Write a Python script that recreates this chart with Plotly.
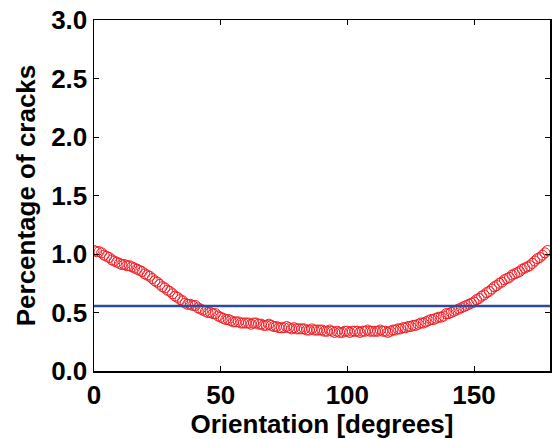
import plotly.graph_objects as go

orientation = list(range(0, 180))
percentage = [
    1.03, 1.02, 1.02, 1.01, 0.99, 0.98, 0.97, 0.95, 0.94, 0.93,
    0.92, 0.91, 0.91, 0.90, 0.90, 0.89, 0.88, 0.87, 0.86, 0.85,
    0.83, 0.82, 0.81, 0.79, 0.77, 0.76, 0.74, 0.72, 0.71, 0.69,
    0.68, 0.66, 0.64, 0.63, 0.61, 0.60, 0.58, 0.57, 0.57, 0.56,
    0.56, 0.54, 0.53, 0.52, 0.51, 0.50, 0.50, 0.49, 0.49, 0.47,
    0.46, 0.45, 0.44, 0.44, 0.43, 0.42, 0.42, 0.42, 0.41, 0.41,
    0.41, 0.41, 0.40, 0.41, 0.41, 0.40, 0.40, 0.39, 0.39, 0.40,
    0.39, 0.38, 0.38, 0.37, 0.37, 0.37, 0.38, 0.37, 0.36, 0.37,
    0.36, 0.36, 0.36, 0.36, 0.35, 0.35, 0.36, 0.35, 0.35, 0.35,
    0.35, 0.34, 0.34, 0.35, 0.34, 0.33, 0.34, 0.33, 0.33, 0.34,
    0.34, 0.33, 0.34, 0.34, 0.34, 0.33, 0.34, 0.34, 0.35, 0.34,
    0.34, 0.34, 0.34, 0.35, 0.34, 0.34, 0.33, 0.34, 0.35, 0.35,
    0.36, 0.36, 0.37, 0.37, 0.38, 0.38, 0.39, 0.39, 0.40, 0.41,
    0.41, 0.42, 0.43, 0.44, 0.44, 0.45, 0.46, 0.46, 0.47, 0.49,
    0.49, 0.50, 0.51, 0.52, 0.53, 0.54, 0.55, 0.56, 0.57, 0.58,
    0.59, 0.61, 0.62, 0.64, 0.65, 0.67, 0.68, 0.70, 0.72, 0.73,
    0.75, 0.76, 0.78, 0.79, 0.80, 0.82, 0.83, 0.84, 0.85, 0.87,
    0.88, 0.89, 0.90, 0.92, 0.94, 0.96, 0.97, 0.99, 1.01, 1.03,
]
uniform_x = [0, 180]
uniform_level = [100.0 / 180.0, 100.0 / 180.0]

x_ticks = [0, 50, 100, 150]
y_ticks = [0.0, 0.5, 1.0, 1.5, 2.0, 2.5, 3.0]

font = dict(family="Liberation Sans, Arial, sans-serif", size=26, color="black", weight="bold")

fig = go.Figure()
fig.add_trace(go.Scatter(
    x=orientation, y=percentage, mode="markers",
    marker=dict(symbol="circle-open", size=10, color="#f01c24", line=dict(width=1, color="#f01c24")),
    showlegend=False,
))
fig.add_trace(go.Scatter(
    x=uniform_x, y=uniform_level, mode="lines",
    line=dict(color="#2b4c9c", width=2.5),
    showlegend=False,
))

axis_common = dict(
    showline=True, linecolor="black", linewidth=1.5, mirror="allticks",
    ticks="inside", ticklen=5, tickwidth=1, tickcolor="black",
    showgrid=False, zeroline=False, tickfont=font, ticklabeloverflow="allow",
)
fig.update_xaxes(range=[0, 180], tickvals=x_ticks, ticktext=[str(v) for v in x_ticks],
                 title=dict(text="Orientation [degrees]", font=font, standoff=0), **axis_common)
fig.update_yaxes(range=[0, 3], tickvals=y_ticks, ticktext=[f"{v:.1f}" for v in y_ticks],
                 title=dict(text="Percentage of cracks", font=font, standoff=8), **axis_common)

fig.update_layout(
    width=553, height=439,
    margin=dict(l=94, r=1, t=20, b=68),
    paper_bgcolor="white", plot_bgcolor="white",
    font=font,
)
fig.write_html(
    "out.html",
    config={"displayModeBar": False, "staticPlot": True},
    post_script="document.body.style.margin='0';document.body.style.overflow='hidden';",
)
